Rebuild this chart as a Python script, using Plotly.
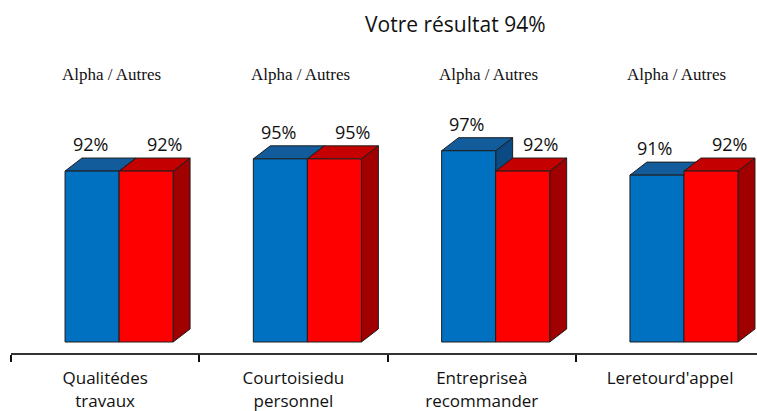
import plotly.graph_objects as go

# ---- data ----
categories = ["Qualitédes<br>travaux", "Courtoisiedu<br>personnel",
              "Entrepriseà<br>recommander", "Leretourd'appel"]
alpha_values = [92, 95, 97, 91]
autres_values = [92, 95, 92, 92]
group_label = "Alpha / Autres"
title_text = "Votre résultat 94%"

# ---- style ----
BASE = 50.0
W = 0.287        # bar width (category units)
OFF = 0.074      # shift of the bar pair right of the category center
DX = 0.090       # 3D depth in x (category units)
DY = 3.2         # 3D depth in y (value units)
blue = dict(front="#0070C0", top="#135C9C", side="#0B4A82")
red = dict(front="#FF0000", top="#C40000", side="#A00000")
EDGE = "#1e1e1e"

fig = go.Figure()


def poly(xs, ys, color):
    fig.add_trace(go.Scatter(
        x=xs + [xs[0]], y=ys + [ys[0]], mode="lines", fill="toself",
        fillcolor=color, line=dict(color=EDGE, width=1),
        hoverinfo="skip", showlegend=False))


def bar3d(x0, v, c):
    x1 = x0 + W
    poly([x1, x1 + DX, x1 + DX, x1], [BASE, BASE + DY, v + DY, v], c["side"])
    poly([x0, x1, x1 + DX, x0 + DX], [v, v, v + DY, v + DY], c["top"])
    poly([x0, x1, x1, x0], [BASE, BASE, v, v], c["front"])


annotations = []
for i, (a, b) in enumerate(zip(alpha_values, autres_values)):
    mid = i + OFF
    bar3d(mid - W, a, blue)
    bar3d(mid, b, red)
    annotations.append(dict(x=mid - W / 2, y=a, text=f"{a}%", showarrow=False,
                            xshift=-2, yshift=27, yanchor="middle", font=dict(size=18)))
    annotations.append(dict(x=mid + W / 2, y=b, text=f"{b}%", showarrow=False,
                            xshift=18, yshift=27, yanchor="middle", font=dict(size=18)))
    annotations.append(dict(x=i + 0.035, y=1 - 74 / 353, yref="paper", yanchor="middle",
                            text=group_label, showarrow=False,
                            font=dict(family="Liberation Serif, Times New Roman, serif",
                                      size=17, color="#111")))

annotations.append(dict(x=0.5965, xref="paper", y=1 - 24 / 353, yref="paper",
                        yanchor="middle", text=title_text, showarrow=False,
                        font=dict(size=21, color="#111")))

n = len(categories)
fig.update_layout(
    width=757, height=411,
    margin=dict(l=11, r=0, t=0, b=58, autoexpand=False),
    paper_bgcolor="white", plot_bgcolor="white",
    font=dict(family="Open Sans, sans-serif", color="#111"),
    annotations=annotations,
    xaxis=dict(range=[-0.5, -0.5 + 746 / 188.3], tickmode="array",
               tickvals=list(range(n)), ticktext=categories, ticks="",
               showline=True, linecolor="#333", linewidth=2, showgrid=False,
               zeroline=False, tickfont=dict(size=17, color="#111"),
               ticklabelstandoff=9, automargin=False,
               minor=dict(tickmode="array", tickvals=[i - 0.5 for i in range(n + 1)],
                          ticks="outside", ticklen=7, tickwidth=2, tickcolor="#111",
                          showgrid=False)),
    yaxis=dict(range=[47.30, 134.03], visible=False, showgrid=False, zeroline=False),
)

fig.write_html("out.html", config={"displayModeBar": False},
               post_script="document.body.style.margin='0';document.body.style.overflow='hidden';")
